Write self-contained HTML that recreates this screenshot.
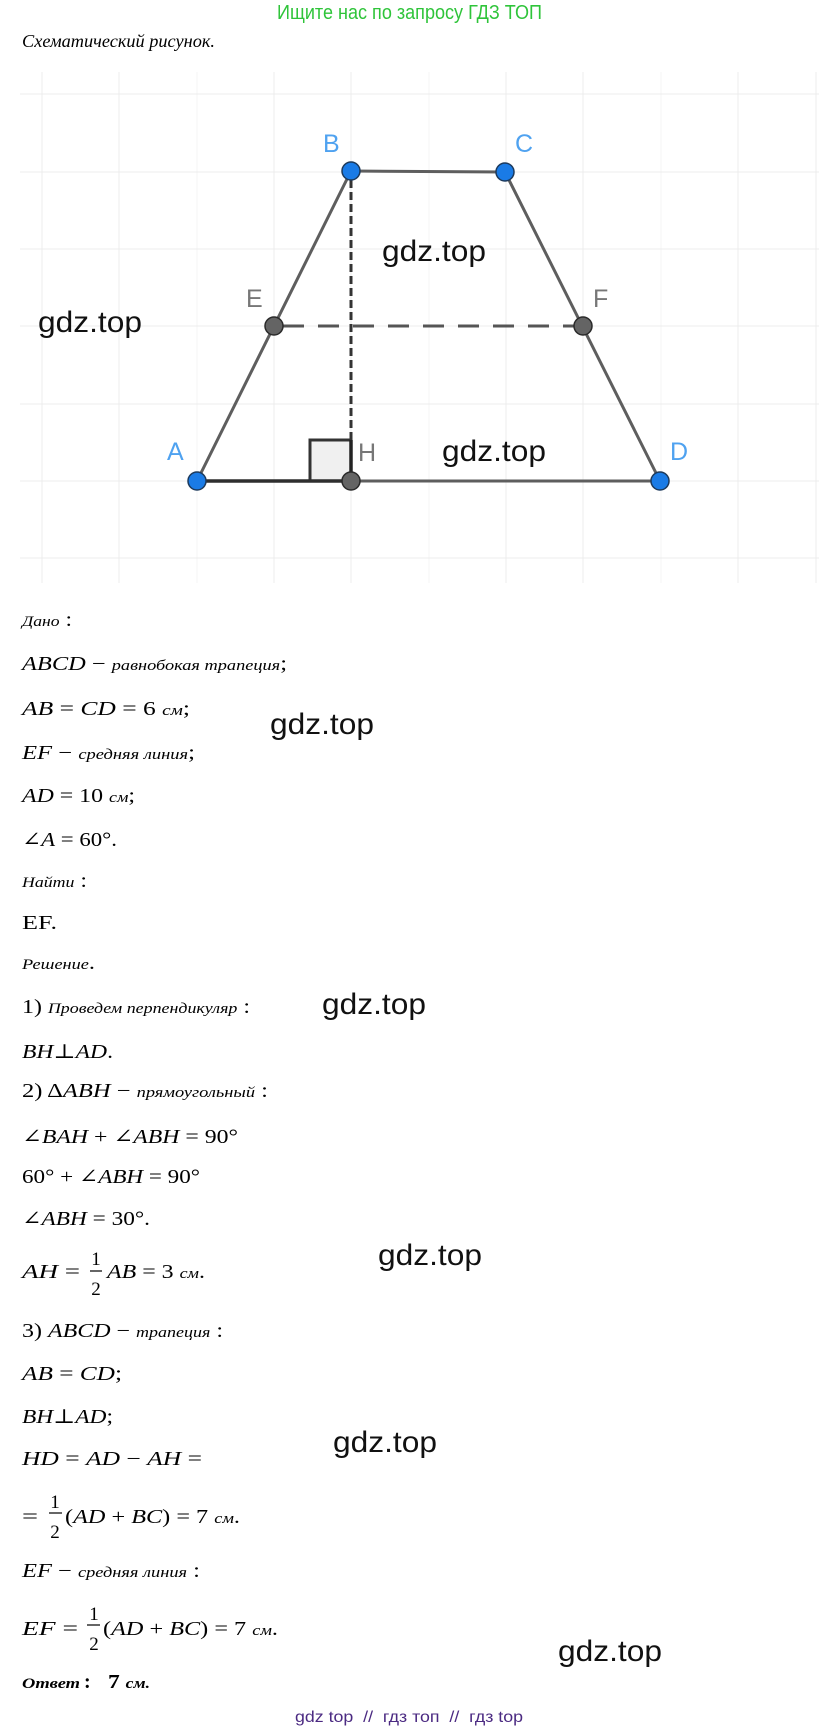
<!DOCTYPE html>
<html>
<head>
<meta charset="utf-8">
<style>
html,body{margin:0;padding:0;background:#fff;}
svg{display:block;}
.m{font-family:"Liberation Serif","DejaVu Serif",serif;font-size:20px;fill:#000;}
.i{font-style:italic;}
.c{font-style:italic;font-size:15px;}
.w{font-family:"Liberation Sans","DejaVu Sans",sans-serif;font-size:30px;fill:#111;}
.lb{font-family:"Liberation Sans","DejaVu Sans",sans-serif;font-size:25px;}
</style>
</head>
<body>
<svg width="819" height="1732" viewBox="0 0 819 1732" xmlns="http://www.w3.org/2000/svg">
<rect width="819" height="1732" fill="#fff"/>

<!-- header -->
<text x="277" y="19" font-family="Liberation Sans, DejaVu Sans, sans-serif" font-size="20" fill="#2fc43a" textLength="265" lengthAdjust="spacingAndGlyphs">Ищите нас по запросу ГДЗ ТОП</text>
<text x="22" y="47" class="m" style="font-size:18px;font-style:italic" textLength="193" lengthAdjust="spacingAndGlyphs">Схематический рисунок.</text>

<!-- grid -->
<g stroke="#ececec" stroke-width="1">
  <line x1="42" y1="72" x2="42" y2="583"/>
  <line x1="119" y1="72" x2="119" y2="583"/>
  <line x1="197" y1="72" x2="197" y2="583" stroke="#f6f6f6"/>
  <line x1="274" y1="72" x2="274" y2="583"/>
  <line x1="351" y1="72" x2="351" y2="583"/>
  <line x1="429" y1="72" x2="429" y2="583" stroke="#f6f6f6"/>
  <line x1="506" y1="72" x2="506" y2="583"/>
  <line x1="583" y1="72" x2="583" y2="583"/>
  <line x1="661" y1="72" x2="661" y2="583" stroke="#f6f6f6"/>
  <line x1="738" y1="72" x2="738" y2="583"/>
  <line x1="816" y1="72" x2="816" y2="583"/>
  <line x1="20" y1="94" x2="819" y2="94"/>
  <line x1="20" y1="172" x2="819" y2="172"/>
  <line x1="20" y1="249" x2="819" y2="249"/>
  <line x1="20" y1="326" x2="819" y2="326"/>
  <line x1="20" y1="404" x2="819" y2="404"/>
  <line x1="20" y1="481" x2="819" y2="481"/>
  <line x1="20" y1="558" x2="819" y2="558"/>
</g>

<!-- figure -->
<rect x="310" y="440" width="41" height="41" fill="#f0f0f0" stroke="#333" stroke-width="3"/>
<g stroke="#5e5e5e" stroke-width="3" fill="none" stroke-linecap="round">
  <line x1="197" y1="481" x2="351" y2="171"/>
  <line x1="351" y1="171" x2="505" y2="172"/>
  <line x1="505" y1="172" x2="660" y2="481"/>
  <line x1="197" y1="481" x2="660" y2="481"/>
</g>
<line x1="197" y1="481" x2="351" y2="481" stroke="#2e2e2e" stroke-width="3.5"/>
<line x1="351" y1="180" x2="351" y2="440" stroke="#333" stroke-width="3" stroke-dasharray="8 4"/>
<line x1="351" y1="440" x2="351" y2="481" stroke="#222" stroke-width="3.5"/>
<line x1="283" y1="326" x2="574" y2="326" stroke="#555" stroke-width="3" stroke-dasharray="21 14"/>

<g stroke="#1d3a5c" stroke-width="1.5">
  <circle cx="197" cy="481" r="9" fill="#1a7be6"/>
  <circle cx="351" cy="171" r="9" fill="#1a7be6"/>
  <circle cx="505" cy="172" r="9" fill="#1a7be6"/>
  <circle cx="660" cy="481" r="9" fill="#1a7be6"/>
</g>
<g stroke="#2a2a2a" stroke-width="1.5" fill="#646464">
  <circle cx="274" cy="326" r="9"/>
  <circle cx="583" cy="326" r="9"/>
  <circle cx="351" cy="481" r="9"/>
</g>

<g class="lb" fill="#4fa2f0">
  <text x="323" y="152">B</text>
  <text x="515" y="152">C</text>
  <text x="167" y="460">A</text>
  <text x="670" y="460">D</text>
</g>
<g class="lb" fill="#777">
  <text x="246" y="307">E</text>
  <text x="593" y="307">F</text>
  <text x="358" y="461">H</text>
</g>

<!-- solution text -->
<text x="22" y="626" class="m" textLength="50" lengthAdjust="spacingAndGlyphs"><tspan class="c">Дано</tspan> :</text>
<text x="22" y="670" class="m" textLength="265" lengthAdjust="spacingAndGlyphs"><tspan class="i">ABCD</tspan> − <tspan class="c">равнобокая трапеция</tspan>;</text>
<text x="22" y="715" class="m" textLength="168" lengthAdjust="spacingAndGlyphs"><tspan class="i">AB</tspan> = <tspan class="i">CD</tspan> = 6 <tspan class="c">см</tspan>;</text>
<text x="22" y="759" class="m" textLength="173" lengthAdjust="spacingAndGlyphs"><tspan class="i">EF</tspan> − <tspan class="c">средняя линия</tspan>;</text>
<text x="22" y="802" class="m" textLength="113" lengthAdjust="spacingAndGlyphs"><tspan class="i">AD</tspan> = 10 <tspan class="c">см</tspan>;</text>
<text x="22" y="846" class="m" textLength="95" lengthAdjust="spacingAndGlyphs">∠<tspan class="i">A</tspan> = 60°.</text>
<text x="22" y="887" class="m" textLength="65" lengthAdjust="spacingAndGlyphs"><tspan class="c">Найти</tspan> :</text>
<text x="22" y="929" class="m" textLength="35" lengthAdjust="spacingAndGlyphs">EF.</text>
<text x="22" y="969" class="m" textLength="73" lengthAdjust="spacingAndGlyphs"><tspan class="c">Решение</tspan>.</text>
<text x="22" y="1013" class="m" textLength="228" lengthAdjust="spacingAndGlyphs">1) <tspan class="c">Проведем перпендикуляр</tspan> :</text>
<text x="22" y="1058" class="m" textLength="91" lengthAdjust="spacingAndGlyphs"><tspan class="i">BH</tspan>⊥<tspan class="i">AD</tspan>.</text>
<text x="22" y="1097" class="m" textLength="246" lengthAdjust="spacingAndGlyphs">2) Δ<tspan class="i">ABH</tspan> − <tspan class="c">прямоугольный</tspan> :</text>
<text x="22" y="1143" class="m" textLength="216" lengthAdjust="spacingAndGlyphs">∠<tspan class="i">BAH</tspan> + ∠<tspan class="i">ABH</tspan> = 90°</text>
<text x="22" y="1183" class="m" textLength="178" lengthAdjust="spacingAndGlyphs">60° + ∠<tspan class="i">ABH</tspan> = 90°</text>
<text x="22" y="1225" class="m" textLength="128" lengthAdjust="spacingAndGlyphs">∠<tspan class="i">ABH</tspan> = 30°.</text>

<text x="22" y="1278" class="m" textLength="58" lengthAdjust="spacingAndGlyphs"><tspan class="i">AH</tspan> =</text>
<text x="96" y="1265" class="m" style="font-size:19px" text-anchor="middle">1</text>
<line x1="90" y1="1271" x2="102" y2="1271" stroke="#000" stroke-width="1.2"/>
<text x="96" y="1295" class="m" style="font-size:19px" text-anchor="middle">2</text>
<text x="107" y="1278" class="m" textLength="98" lengthAdjust="spacingAndGlyphs"><tspan class="i">AB</tspan> = 3 <tspan class="c">см</tspan>.</text>

<text x="22" y="1337" class="m" textLength="201" lengthAdjust="spacingAndGlyphs">3) <tspan class="i">ABCD</tspan> − <tspan class="c">трапеция</tspan> :</text>
<text x="22" y="1380" class="m" textLength="100" lengthAdjust="spacingAndGlyphs"><tspan class="i">AB</tspan> = <tspan class="i">CD</tspan>;</text>
<text x="22" y="1423" class="m" textLength="91" lengthAdjust="spacingAndGlyphs"><tspan class="i">BH</tspan>⊥<tspan class="i">AD</tspan>;</text>
<text x="22" y="1465" class="m" textLength="180" lengthAdjust="spacingAndGlyphs"><tspan class="i">HD</tspan> = <tspan class="i">AD</tspan> − <tspan class="i">AH</tspan> =</text>

<text x="22" y="1523" class="m" textLength="16" lengthAdjust="spacingAndGlyphs">=</text>
<text x="55" y="1508" class="m" style="font-size:19px" text-anchor="middle">1</text>
<line x1="49" y1="1513" x2="62" y2="1513" stroke="#000" stroke-width="1.2"/>
<text x="55" y="1538" class="m" style="font-size:19px" text-anchor="middle">2</text>
<text x="65" y="1523" class="m" textLength="175" lengthAdjust="spacingAndGlyphs">(<tspan class="i">AD</tspan> + <tspan class="i">BC</tspan>) = 7 <tspan class="c">см</tspan>.</text>

<text x="22" y="1577" class="m" textLength="178" lengthAdjust="spacingAndGlyphs"><tspan class="i">EF</tspan> − <tspan class="c">средняя линия</tspan> :</text>

<text x="22" y="1635" class="m" textLength="56" lengthAdjust="spacingAndGlyphs"><tspan class="i">EF</tspan> =</text>
<text x="94" y="1620" class="m" style="font-size:19px" text-anchor="middle">1</text>
<line x1="87" y1="1625" x2="100" y2="1625" stroke="#000" stroke-width="1.2"/>
<text x="94" y="1650" class="m" style="font-size:19px" text-anchor="middle">2</text>
<text x="103" y="1635" class="m" textLength="175" lengthAdjust="spacingAndGlyphs">(<tspan class="i">AD</tspan> + <tspan class="i">BC</tspan>) = 7 <tspan class="c">см</tspan>.</text>

<text x="22" y="1688" class="m" style="font-size:15px;font-style:italic;font-weight:bold" textLength="58" lengthAdjust="spacingAndGlyphs">Ответ</text>
<text x="84" y="1688" class="m" style="font-weight:bold">:</text>
<text x="108" y="1688" class="m" style="font-weight:bold" textLength="42" lengthAdjust="spacingAndGlyphs">7 <tspan style="font-style:italic;font-size:15px">см.</tspan></text>

<!-- watermarks -->
<g class="w">
  <text x="38" y="332" textLength="104" lengthAdjust="spacingAndGlyphs">gdz.top</text>
  <text x="382" y="261" textLength="104" lengthAdjust="spacingAndGlyphs">gdz.top</text>
  <text x="442" y="461" textLength="104" lengthAdjust="spacingAndGlyphs">gdz.top</text>
  <text x="270" y="734" textLength="104" lengthAdjust="spacingAndGlyphs">gdz.top</text>
  <text x="322" y="1014" textLength="104" lengthAdjust="spacingAndGlyphs">gdz.top</text>
  <text x="378" y="1265" textLength="104" lengthAdjust="spacingAndGlyphs">gdz.top</text>
  <text x="333" y="1452" textLength="104" lengthAdjust="spacingAndGlyphs">gdz.top</text>
  <text x="558" y="1661" textLength="104" lengthAdjust="spacingAndGlyphs">gdz.top</text>
</g>

<!-- footer -->
<text x="295" y="1722" font-family="Liberation Sans, DejaVu Sans, sans-serif" font-size="16" fill="#4b2a82" style="white-space:pre" textLength="228" lengthAdjust="spacingAndGlyphs">gdz top  //  гдз топ  //  гдз top</text>
</svg>
</body>
</html>
